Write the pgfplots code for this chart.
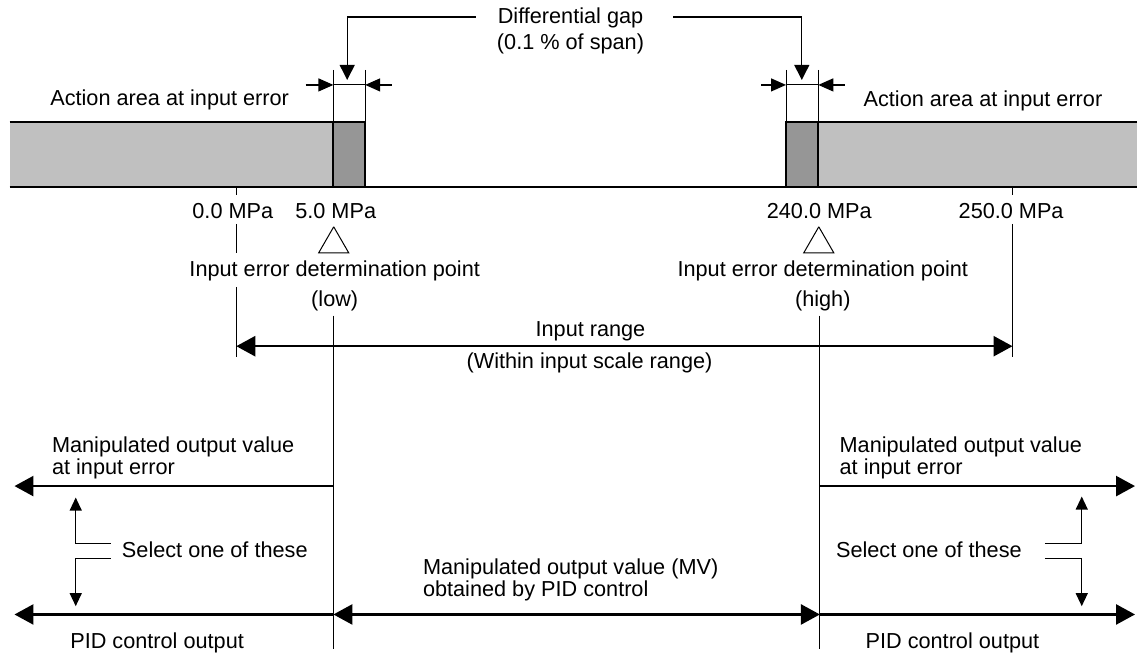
\documentclass[border=0pt]{standalone}
\usepackage{pgfplots}
\pgfplotsset{compat=1.18}
\usepackage{fontspec}
\setmainfont{Liberation Sans}
\usetikzlibrary{arrows.meta}
\definecolor{barlight}{RGB}{192,192,192}
\definecolor{bardark}{RGB}{150,150,150}
\tikzset{
  big/.style={-{Triangle[length=9.5pt,width=10pt]}, line width=1.3pt, black},
  bigboth/.style={{Triangle[length=9.5pt,width=10pt]}-{Triangle[length=9.5pt,width=10pt]}, line width=1.3pt, black},
  lead/.style={-{Triangle[length=7.5pt,width=7.5pt]}, line width=0.6pt, black},
  harr/.style={-{Triangle[length=7.5pt,width=6.5pt]}, line width=0.6pt, black},
  sarr/.style={-{Triangle[length=6.5pt,width=6pt]}, line width=0.6pt, black},
  thinl/.style={line width=0.5pt, black},
  outl/.style={line width=1pt, black},
  lbl/.style={anchor=base, inner sep=0pt, font=\fontsize{10.85}{12}\selectfont},
  lblw/.style={anchor=base west, inner sep=0pt, font=\fontsize{10.85}{12}\selectfont},
}
\begin{document}
\begin{tikzpicture}
\begin{axis}[width=569pt,height=329pt,scale only axis,
  xmin=0,xmax=1138,ymin=0,ymax=658,y dir=reverse,
  hide axis,clip=false,no markers]
\path (rel axis cs:0,0) rectangle (rel axis cs:1,1);
% ---- bars ----
\addplot[fill=barlight, draw=none] coordinates {(9.6,122) (333.7,122) (333.7,187) (9.6,187)};
\addplot[fill=bardark, draw=none] coordinates {(333.7,122) (365.5,122) (365.5,187) (333.7,187)};
\addplot[fill=bardark, draw=none] coordinates {(786.7,122) (819,122) (819,187) (786.7,187)};
\addplot[fill=barlight, draw=none] coordinates {(819,122) (1138,122) (1138,187) (819,187)};
\addplot[outl] coordinates {(9.6,122) (365.5,122) (365.5,187)};
\addplot[outl] coordinates {(333.7,122) (333.7,187)};
\addplot[outl] coordinates {(1138,122) (786.7,122) (786.7,187)};
\addplot[outl] coordinates {(819,122) (819,187)};
\addplot[outl] coordinates {(9.6,187) (1138,187)};
\addplot[thinl] coordinates {(236.5,187) (236.5,195)};
\addplot[thinl] coordinates {(1013.4,187) (1013.4,195)};
% ---- differential gap ----
\addplot[lead] coordinates {(476,17) (347.5,17) (347.5,80)};
\addplot[lead] coordinates {(674,17) (802.5,17) (802.5,80)};
\addplot[thinl] coordinates {(333.7,70) (333.7,122)};
\addplot[thinl] coordinates {(365.5,70) (365.5,122)};
\addplot[thinl] coordinates {(786.7,70) (786.7,122)};
\addplot[thinl] coordinates {(819,70) (819,122)};
\addplot[harr] coordinates {(306,85) (333.7,85)};
\addplot[harr] coordinates {(392,85) (365.5,85)};
\addplot[thinl] coordinates {(333.7,85) (365.5,85)};
\addplot[harr] coordinates {(762,85) (786.7,85)};
\addplot[harr] coordinates {(845.7,85) (819,85)};
\addplot[thinl] coordinates {(786.7,85) (819,85)};
\node[lbl] at (axis cs:571,24) {Differential gap};
\node[lbl] at (axis cs:571,50) {(0.1 \% of span)};
\node[lblw] at (axis cs:50,106) {Action area at input error};
\node[lblw] at (axis cs:864,107) {Action area at input error};
% ---- scale labels ----
\node[lbl] at (axis cs:233,219) {0.0 MPa};
\node[lbl] at (axis cs:336,219) {5.0 MPa};
\node[lbl] at (axis cs:820,219) {240.0 MPa};
\node[lbl] at (axis cs:1012,219) {250.0 MPa};
\addplot[thinl, line join=miter] coordinates {(334,227) (319,253) (349,253) (334,227)};
\addplot[thinl, line join=miter] coordinates {(819.5,227) (804.5,253) (834.5,253) (819.5,227)};
\node[lbl] at (axis cs:335,277) {Input error determination point};
\node[lbl] at (axis cs:335,306.7) {(low)};
\node[lbl] at (axis cs:823.5,277) {Input error determination point};
\node[lbl] at (axis cs:823.5,306.7) {(high)};
\addplot[thinl] coordinates {(236.5,224) (236.5,253)};
\addplot[thinl] coordinates {(236.5,287) (236.5,357)};
\addplot[thinl] coordinates {(1013.4,224) (1013.4,357)};
\addplot[bigboth] coordinates {(236.5,346.5) (1013.4,346.5)};
\node[lbl] at (axis cs:591,337) {Input range};
\node[lbl] at (axis cs:590,369) {(Within input scale range)};
\addplot[thinl] coordinates {(333.7,316) (333.7,650)};
\addplot[thinl] coordinates {(820.6,316) (820.6,650)};
% ---- outputs ----
\node[lblw] at (axis cs:51.7,453) {Manipulated output value};
\node[lblw] at (axis cs:51.7,475) {at input error};
\node[lblw] at (axis cs:840,453) {Manipulated output value};
\node[lblw] at (axis cs:840,475) {at input error};
\addplot[big] coordinates {(333.7,486.5) (14.5,486.5)};
\addplot[big] coordinates {(820.6,486.5) (1136,486.5)};
\addplot[sarr] coordinates {(111,544) (75.8,544) (75.8,498)};
\addplot[sarr] coordinates {(111,559) (75.8,559) (75.8,606.7)};
\addplot[sarr] coordinates {(1045.8,544) (1082.7,544) (1082.7,497)};
\addplot[sarr] coordinates {(1045.8,559) (1082.7,559) (1082.7,606.7)};
\node[lblw] at (axis cs:121.7,558) {Select one of these};
\node[lblw] at (axis cs:836.4,558) {Select one of these};
\addplot[big] coordinates {(333.7,615) (14.5,615)};
\addplot[bigboth] coordinates {(333.7,615) (820.6,615)};
\addplot[big] coordinates {(820.6,615) (1136,615)};
\node[lblw] at (axis cs:423,575) {Manipulated output value (MV)};
\node[lblw] at (axis cs:423,597) {obtained by PID control};
\node[lblw] at (axis cs:70,649) {PID control output};
\node[lblw] at (axis cs:866,649) {PID control output};
\end{axis}
\end{tikzpicture}
\end{document}
